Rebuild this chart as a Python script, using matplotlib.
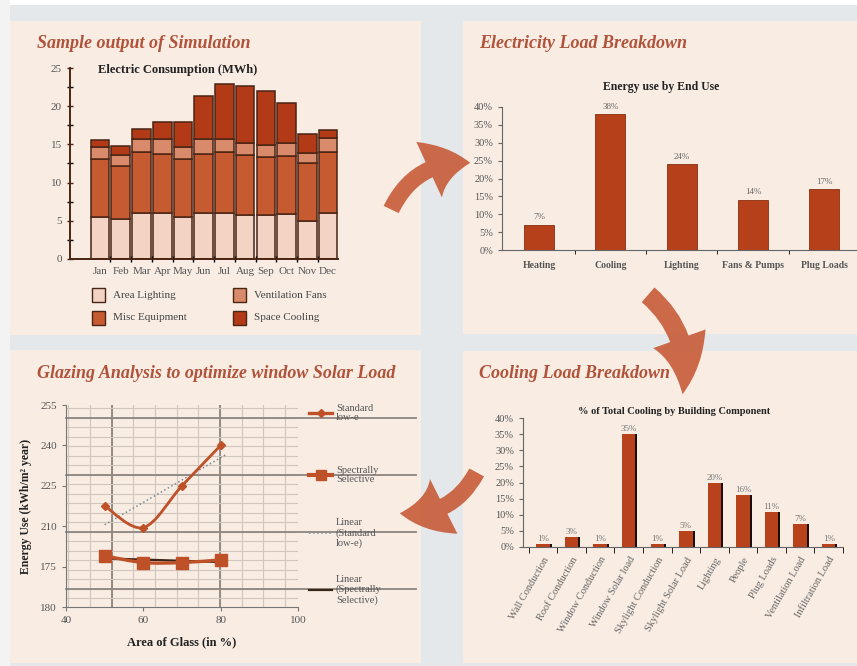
import numpy as np
import matplotlib
matplotlib.use("Agg")
import matplotlib.pyplot as plt
from matplotlib.patches import Rectangle, FancyArrowPatch, ArrowStyle
from matplotlib.lines import Line2D
from matplotlib.path import Path
from matplotlib.patches import PathPatch

plt.rcParams['font.family'] = ['Liberation Serif', 'DejaVu Serif']

# --- monthly electric consumption (MWh) ---
months = ['Jan', 'Feb', 'Mar', 'Apr', 'May', 'Jun', 'Jul', 'Aug', 'Sep', 'Oct', 'Nov', 'Dec']
area_lighting = [5.5, 5.3, 6.0, 6.0, 5.45, 6.0, 6.0, 5.7, 5.7, 5.9, 5.0, 6.0]
misc_equipment = [7.6, 6.9, 8.0, 7.8, 7.65, 7.8, 8.0, 7.95, 7.65, 7.6, 7.55, 8.0]
ventilation_fans = [1.6, 1.4, 1.75, 1.9, 1.6, 1.9, 1.75, 1.55, 1.55, 1.7, 1.35, 1.8]
space_cooling = [0.9, 1.15, 1.25, 2.2, 3.2, 5.7, 7.2, 7.4, 7.1, 5.2, 2.4, 1.05]

# --- energy use by end use (%) ---
end_uses = ['Heating', 'Cooling', 'Lighting', 'Fans & Pumps', 'Plug Loads']
end_use_pct = [7, 38, 24, 14, 17]

# --- cooling by building component (%) ---
components = ['Wall Conduction', 'Roof Conduction', 'Window Conduction', 'Window Solar load',
              'Skylight Conduction', 'Skylight Solar Load', 'Lighting', 'People', 'Plug Loads',
              'Ventilation Load', 'Infiltration Load']
component_pct = [1, 3, 1, 35, 1, 5, 20, 16, 11, 7, 1]

# --- glazing analysis ---
glass_area = [50, 60, 70, 80]
standard_lowe = [217.5, 209.5, 225.0, 240.0]
spectral_sel = [199.0, 196.5, 196.5, 197.5]
glaze_yticks = [180, 195, 210, 225, 240, 255]
glaze_ylabels = ['180', '175', '210', '225', '240', '255']

W, H = 857, 666
fig = plt.figure(figsize=(W / 100, H / 100), dpi=100)
fig.patch.set_facecolor('#e4e8eb')

CREAM = '#f8ece3'
TITLE = '#b0533a'
DARK = '#4a2414'
GREY = '#555555'


def box(x0, y0, x1, y1):
    return [x0 / W, 1 - y1 / H, (x1 - x0) / W, (y1 - y0) / H]


def fp(x, y):
    return (x / W, 1 - y / H)


# page background and panels
fig.add_artist(Rectangle((0, 1 - 5 / H), 1, 5 / H, transform=fig.transFigure,
                         facecolor='white', edgecolor='none', zorder=0))
fig.add_artist(Rectangle((0, 0), 10 / W, 1, transform=fig.transFigure,
                         facecolor='#f3f3f3', edgecolor='none', zorder=0))
for x0, y0, x1, y1 in [(10, 21, 421, 335), (463, 21, 857, 334),
                       (10, 350, 421, 663), (463, 351, 857, 663)]:
    b = box(x0, y0, x1, y1)
    fig.add_artist(Rectangle((b[0], b[1]), b[2], b[3], transform=fig.transFigure,
                             facecolor=CREAM, edgecolor='none', zorder=0))

title_kw = dict(fontsize=13, fontweight='bold', style='italic', color=TITLE, va='center')
fig.text(*fp(37, 43), 'Sample output of Simulation', **title_kw)
fig.text(*fp(479, 43), 'Electricity Load Breakdown', **title_kw)
fig.text(*fp(37, 373), 'Glazing Analysis to optimize window Solar Load', **title_kw)
fig.text(*fp(479, 373), 'Cooling Load Breakdown', **title_kw)


def style_axes(ax, color='#666666'):
    ax.set_facecolor('none')
    for s in ['top', 'right']:
        ax.spines[s].set_visible(False)
    for s in ['left', 'bottom']:
        ax.spines[s].set_color(color)
    ax.tick_params(colors=color, labelcolor=GREY)


# ---------- panel 1: stacked monthly bars ----------
ax1 = fig.add_axes(box(70, 68, 338, 259))
style_axes(ax1, DARK)
x = np.arange(len(months))
c_light, c_misc, c_vent, c_cool = '#f3d4c4', '#c65a30', '#d98a6b', '#b23a16'
bottom = np.zeros(len(months))
for vals, col in [(area_lighting, c_light), (misc_equipment, c_misc),
                  (ventilation_fans, c_vent), (space_cooling, c_cool)]:
    ax1.bar(x, vals, bottom=bottom, width=0.9, color=col, edgecolor=DARK, linewidth=1.1)
    bottom += np.array(vals)
ax1.set_xlim(-1.45, 11.48)
ax1.set_ylim(0, 25)
ax1.set_yticks(np.arange(0, 26, 5))
ax1.set_yticks(np.arange(0, 25.1, 2.5), minor=True)
ax1.tick_params(axis='y', which='both', direction='inout', length=4.5, width=1, labelsize=8)
ax1.set_xticks(x)
ax1.set_xticklabels(months, fontsize=8)
ax1.tick_params(axis='x', which='major', length=0, pad=6)
ax1.set_xticks(x[:-1] + 0.5, minor=True)
ax1.tick_params(axis='x', which='minor', direction='inout', length=4, width=1)
ax1.spines['left'].set_linewidth(1.4)
ax1.spines['bottom'].set_linewidth(1.4)
fig.text(*fp(178, 70), 'Electric Consumption (MWh)', fontsize=9, fontweight='bold',
         color='#222222', ha='center', va='center')

for (px, py, col, lab) in [(92, 295, c_light, 'Area Lighting'),
                           (233, 295, c_vent, 'Ventilation Fans'),
                           (92, 318, c_misc, 'Misc Equipment'),
                           (233, 318, c_cool, 'Space Cooling')]:
    b = box(px, py - 7, px + 13, py + 7)
    fig.add_artist(Rectangle((b[0], b[1]), b[2], b[3], transform=fig.transFigure,
                             facecolor=col, edgecolor=DARK, linewidth=1))
    fig.text(*fp(px + 21, py), lab, fontsize=8, color='#444444', va='center')

# ---------- panel 2: end use bars ----------
ax2 = fig.add_axes(box(502, 107, 857, 250))
style_axes(ax2)
xe = np.arange(len(end_uses))
pct = np.array(end_use_pct) / 100
ax2.bar(xe, pct, width=0.42, color='#b5401a', edgecolor='#8a2e10', linewidth=0.6)
for xi, v, lab in zip(xe, pct, end_use_pct):
    ax2.text(xi, v + 0.01, f'{lab}%', ha='center', va='bottom', fontsize=6.5, color='#666666')
ax2.set_xlim(-0.52, 4.46)
ax2.set_ylim(0, 0.40)
ax2.set_yticks(np.arange(0, 0.401, 0.05))
ax2.set_yticklabels([f'{int(round(t * 100))}%' for t in np.arange(0, 0.401, 0.05)], fontsize=7.5)
ax2.tick_params(axis='y', direction='out', length=3)
ax2.set_xticks(xe)
ax2.set_xticklabels(end_uses, fontsize=7, fontweight='bold')
ax2.tick_params(axis='x', which='major', length=0, pad=8)
ax2.set_xticks(xe[:-1] + 0.5, minor=True)
ax2.tick_params(axis='x', which='minor', direction='out', length=3)
fig.text(*fp(661, 87), 'Energy use by End Use', fontsize=8.5, fontweight='bold',
         color='#222222', ha='center', va='center')

# ---------- panel 4: cooling component bars ----------
ax4 = fig.add_axes(box(523, 418, 843, 547))
style_axes(ax4)
xc = np.arange(len(components))
cp = np.array(component_pct) / 100
ax4.bar(xc + 0.07, cp, width=0.47, color='#1a0d08', linewidth=0)
ax4.bar(xc, cp, width=0.47, color='#b8421b', linewidth=0)
for xi, v, lab in zip(xc, cp, component_pct):
    ax4.text(xi, v + 0.003, f'{lab}%', ha='center', va='bottom', fontsize=6.5, color='#777777')
ax4.set_xlim(-0.7, 10.5)
ax4.set_ylim(0, 0.40)
ax4.set_yticks(np.arange(0, 0.401, 0.05))
ax4.set_yticklabels([f'{int(round(t * 100))}%' for t in np.arange(0, 0.401, 0.05)], fontsize=7.5)
ax4.tick_params(axis='y', direction='out', length=3)
ax4.set_xticks(xc)
ax4.set_xticklabels(components, fontsize=7.5, rotation=60, ha='right', va='top',
                    rotation_mode='anchor', color='#666666')
ax4.tick_params(axis='x', which='major', length=0, pad=6)
ax4.set_xticks(np.arange(-0.5, 10.6, 1), minor=True)
ax4.tick_params(axis='x', which='minor', direction='out', length=4)
fig.text(*fp(674, 412), '% of Total Cooling by Building Component', fontsize=7.5,
         fontweight='bold', color='#222222', ha='center', va='center')

# ---------- panel 3: glazing analysis ----------
ax3 = fig.add_axes(box(66, 405, 298, 607))
style_axes(ax3, '#777777')
ax3.set_xlim(40, 100)
ax3.set_ylim(180, 255)

# graph-paper grid behind the curves
for gx in np.arange(51.8 - 2 * 5.6, 100, 5.6):
    if gx > 40:
        ax3.axvline(gx, color='#cfc6be', lw=0.8, zorder=0)
for gx in [51.8, 79.8]:
    ax3.axvline(gx, color='#8c8580', lw=1.3, zorder=0)
for gy in np.arange(186.7 - 2 * 3.53, 255, 3.53):
    if gy > 180:
        ax3.axhline(gy, color='#cfc6be', lw=0.8, zorder=0)
for gy in [186.7, 207.9, 229.1, 250.3]:
    ax3.axhline(gy, xmax=1.51, color='#8c8580', lw=1.3, zorder=0, clip_on=False)


def smooth_path(xs, ys, t=1 / 6):
    # Catmull-Rom style cubic segments through every point
    pts = np.column_stack([xs, ys]).astype(float)
    verts = [pts[0]]
    codes = [Path.MOVETO]
    n = len(pts)
    for i in range(n - 1):
        p0 = pts[max(i - 1, 0)]
        p1, p2 = pts[i], pts[i + 1]
        p3 = pts[min(i + 2, n - 1)]
        c1 = p1 + (p2 - p0) * t
        c2 = p2 - (p3 - p1) * t
        verts += [c1, c2, p2]
        codes += [Path.CURVE4] * 3
    return Path(verts, codes)


LINE_C = '#bf5128'
ax3.add_patch(PathPatch(smooth_path(glass_area, standard_lowe), facecolor='none',
                        edgecolor=LINE_C, lw=2, zorder=3))
ax3.add_patch(PathPatch(smooth_path(glass_area, spectral_sel), facecolor='none',
                        edgecolor=LINE_C, lw=2.4, zorder=3))
ax3.plot(glass_area, standard_lowe, ls='none', marker='D', ms=4.5, color=LINE_C, zorder=4)
ax3.plot(glass_area, spectral_sel, ls='none', marker='s', ms=8, color=LINE_C, zorder=4)

fit_x = np.array([50, 81.5])
k1 = np.polyfit(glass_area, standard_lowe, 1)
k2 = np.polyfit(glass_area, spectral_sel, 1)
ax3.plot(fit_x, np.polyval(k1, fit_x), ls=':', lw=1.1, color='#7d8a95', zorder=2)
ax3.plot([50, 80], np.polyval(k2, [50, 80]), lw=1.6, color='#3a2418', zorder=2)

ax3.set_xticks([40, 60, 80, 100])
ax3.set_xticklabels(['40', '60', '80', '100'], fontsize=8)
ax3.set_yticks(glaze_yticks)
ax3.set_yticklabels(glaze_ylabels, fontsize=8)
ax3.tick_params(direction='out', length=3)
ax3.set_xlabel('Area of Glass (in %)', fontsize=9, fontweight='bold', color='#222222', labelpad=8)
ax3.set_ylabel('Energy Use (kWh/m² year)', fontsize=8.5, fontweight='bold', color='#222222',
               labelpad=6)

# legend drawn beside the plot
leg_items = [
    (413, dict(color=LINE_C, lw=2.4, marker='D', ms=4.5), 'Standard\nlow-e'),
    (475, dict(color=LINE_C, lw=3, marker='s', ms=7), 'Spectrally\nSelective'),
    (533, dict(color='#7d8a95', lw=1.1, ls=':'), 'Linear\n(Standard\nlow-e)'),
    (590, dict(color='#3a2418', lw=1.6), 'Linear\n(Spectrally\nSelective)'),
]
for py, kw, lab in leg_items:
    x0, y0 = fp(309, py)
    x1, _ = fp(332, py)
    xm, _ = fp(320.5, py)
    style = dict(kw)
    marker = style.pop('marker', None)
    ms = style.pop('ms', None)
    fig.add_artist(Line2D([x0, x1], [y0, y0], transform=fig.transFigure, **style))
    if marker:
        fig.add_artist(Line2D([xm], [y0], transform=fig.transFigure, marker=marker,
                              ms=ms, color=kw['color'], ls='none'))
    fig.text(*fp(336, py), lab, fontsize=7.5, color='#555555', va='center', linespacing=1.1)

# ---------- connecting arrows ----------
arrow_kw = dict(transform=fig.transFigure, facecolor='#c85e3c', edgecolor='none',
                alpha=0.92, zorder=5, mutation_scale=20)
fig.add_artist(FancyArrowPatch(fp(390, 212), fp(473, 163), connectionstyle='arc3,rad=-0.35',
                               arrowstyle=ArrowStyle.Simple(head_length=1.5, head_width=2.2,
                                                            tail_width=0.6), **arrow_kw))
fig.add_artist(FancyArrowPatch(fp(646, 293), fp(682, 397), connectionstyle='arc3,rad=-0.3',
                               arrowstyle=ArrowStyle.Simple(head_length=2.0, head_width=2.0,
                                                            tail_width=0.7), **arrow_kw))
fig.add_artist(FancyArrowPatch(fp(478, 470), fp(397, 513), connectionstyle='arc3,rad=-0.35',
                               arrowstyle=ArrowStyle.Simple(head_length=1.6, head_width=2.2,
                                                            tail_width=0.6), **arrow_kw))

fig.savefig('out.png', dpi=100, facecolor=fig.get_facecolor())
